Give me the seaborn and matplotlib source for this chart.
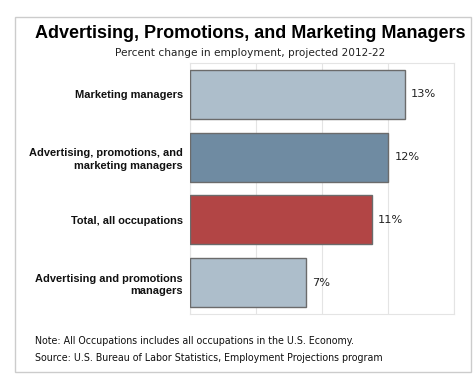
import matplotlib
matplotlib.use("Agg")
import matplotlib.pyplot as plt
import seaborn as sns
import pandas as pd
from matplotlib.patches import Rectangle

categories = ["Marketing managers",
              "Advertising, promotions, and\nmarketing managers",
              "Total, all occupations",
              "Advertising and promotions\nmanagers"]
values = [13, 12, 11, 7]
value_labels = ["13%", "12%", "11%", "7%"]
colors = ["#adbecb", "#6f8ba2", "#b24545", "#adbecb"]

df = pd.DataFrame({"category": categories, "value": values})

sns.set_theme(style="white")
plt.rcParams['font.family'] = ['DejaVu Sans']

fig = plt.figure(figsize=(4.75, 3.85), dpi=100)
ax = fig.add_axes([190/475, 1-314/385, 264/475, 251/385])

sns.barplot(data=df, x="value", y="category", hue="category", palette=colors,
            legend=False, width=0.78, edgecolor="#6b6b6b", linewidth=1.0,
            saturation=1, ax=ax, zorder=3)

ax.set_xlim(0, 16)
ax.set_xticks([0, 4, 8, 12, 16])
ax.set_xticklabels([])
ax.tick_params(axis="x", length=0)
ax.tick_params(axis="y", length=0, pad=5)
ax.grid(axis="x", color="#e4e4e4", linewidth=0.8, zorder=0)
ax.set_xlabel("")
ax.set_ylabel("")
for s in ax.spines.values():
    s.set_color("#e4e4e4")
    s.set_linewidth(0.8)
for lbl in ax.get_yticklabels():
    lbl.set_fontfamily("Liberation Sans")
    lbl.set_fontweight("bold")
    lbl.set_fontsize(7.9)
    lbl.set_color("#111111")
    lbl.set_multialignment("right")
    lbl.set_linespacing(1.3)

for i, (v, t) in enumerate(zip(values, value_labels)):
    ax.text(v + 0.4, i, t, va="center", ha="left", fontsize=8.2, color="#222222")

# outer frame
fig.patches.append(Rectangle((15/475, 1-372/385), 456/475, 355/385,
                             transform=fig.transFigure, fill=False,
                             edgecolor="#cccccc", linewidth=1.0))

fig.text(250/475, 1-33/385, "Advertising, Promotions, and Marketing Managers",
         ha="center", va="center", fontsize=13, fontweight="bold",
         family="Liberation Sans", color="#000000")
fig.text(250/475, 1-53/385, "Percent change in employment, projected 2012-22",
         ha="center", va="center", fontsize=7.6, color="#222222")
fig.text(35/475, 1-341/385, "Note: All Occupations includes all occupations in the U.S. Economy.",
         ha="left", va="center", fontsize=6.85, color="#111111")
fig.text(35/475, 1-358/385, "Source: U.S. Bureau of Labor Statistics, Employment Projections program",
         ha="left", va="center", fontsize=6.85, color="#111111")

fig.savefig("out.png", dpi=100)
